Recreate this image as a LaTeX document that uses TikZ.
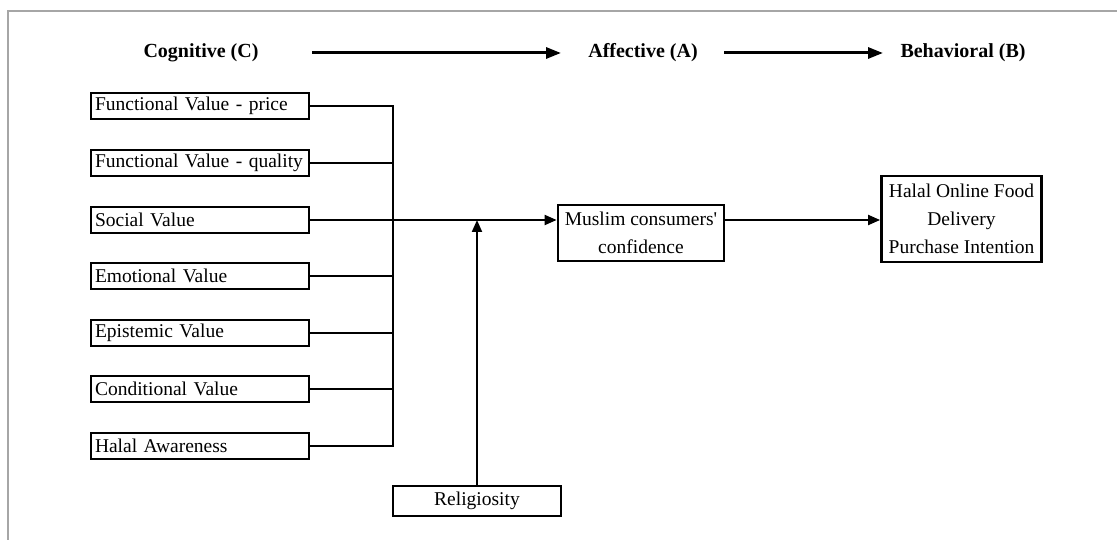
\documentclass[tikz,border=0pt]{standalone}
\usepackage{fontspec}
\setmainfont{Liberation Serif}
\usetikzlibrary{arrows.meta}
\begin{document}
\begin{tikzpicture}[x=1pt,y=-1pt,
  font=\fontsize{19.5}{28}\selectfont,
  lbox/.style={draw, line width=2.8pt, inner xsep=4pt, inner ysep=0pt,
    text width=210pt, align=left, minimum height=26pt},
  cbox/.style={draw, line width=2.8pt, inner sep=0pt, align=center},
  head/.style={font=\fontsize{20}{24}\selectfont\bfseries},
  conn/.style={line width=2pt},
  arr/.style={line width=2pt, -{Triangle[length=12pt,width=10pt]}},
  harr/.style={line width=3pt, -{Triangle[length=15pt,width=11pt]}}]
\useasboundingbox (0,0) rectangle (1117,540);
\draw[gray!70, line width=1.2pt] (1117,11) -- (8,11) -- (8,540);

% headers
\node[head] (hc) at (201,53) {Cognitive (C)};
\node[head] (ha) at (643,53) {Affective (A)};
\node[head] (hb) at (963,53) {Behavioral (B)};
\coordinate (a1s) at (312,53);
\coordinate (a1e) at (561,53);
\coordinate (a2s) at (724,53);
\coordinate (a2e) at (883,53);
\draw[harr] (a1s) -- (a1e);
\draw[harr] (a2s) -- (a2e);

% left boxes
\node[lbox] (f1) at (200,106) {Functional Value - price};
\node[lbox] (f2) at (200,163) {Functional Value - quality};
\node[lbox] (f3) at (200,220) {Social Value};
\node[lbox] (f4) at (200,276) {Emotional Value};
\node[lbox] (f5) at (200,333) {Epistemic Value};
\node[lbox] (f6) at (200,389) {Conditional Value};
\node[lbox] (f7) at (200,446) {Halal Awareness};

% other boxes
\node[cbox, minimum width=166pt, minimum height=56pt] (m) at (641,233)
  {Muslim consumers\textquotesingle\\confidence};
\node[cbox, minimum width=160pt, minimum height=86pt] (h) at (961.5,219)
  {Halal Online Food\\Delivery\\Purchase Intention};
\node[cbox, minimum width=168pt, minimum height=30pt] (r) at (477,501)
  {Religiosity};

% bus
\coordinate (b1) at (393,106);
\coordinate (b7) at (393,446);
\draw[conn] (f1.east) -- (b1) -- (b7) -- (f7.east);
\foreach \i in {2,4,5,6} {
  \draw[conn] (f\i.east) -- (f\i.east -| b1);
}
\draw[arr] (f3.east) -- (f3.east -| m.west);
\draw[arr] (r.north) -- (r.north |- f3.east);
\draw[arr] (m.east |- f3.east) -- (h.west |- f3.east);
\end{tikzpicture}
\end{document}
